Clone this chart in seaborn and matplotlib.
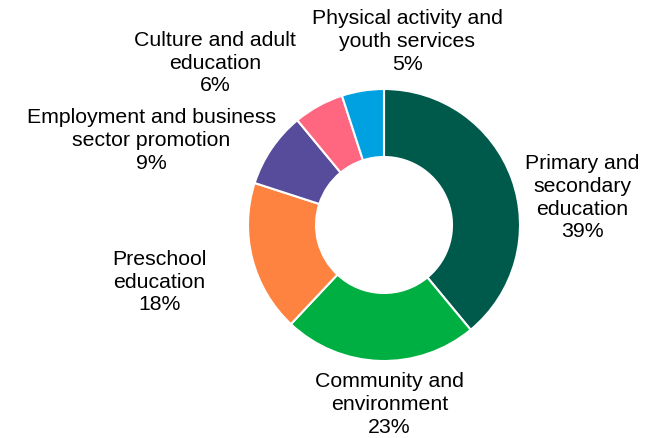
import matplotlib
matplotlib.use("Agg")
import matplotlib.pyplot as plt
import seaborn as sns

categories = ["Primary and\nsecondary\neducation", "Community and\nenvironment",
              "Preschool\neducation", "Employment and business\nsector promotion",
              "Culture and adult\neducation", "Physical activity and\nyouth services"]
shares = [39, 23, 18, 9, 6, 5]
colors = ["#005A4C", "#00AF41", "#FF8340", "#574B9B", "#FF6680", "#00A1E0"]

# label centres in units of the outer radius, relative to the pie centre
label_pos = [(1.46, 0.20), (0.04, -1.32), (-1.65, -0.42),
             (-1.71, 0.62), (-1.24, 1.19), (0.17, 1.35)]

sns.set_theme(style="white")
plt.rcParams["font.family"] = ["Liberation Sans", "DejaVu Sans"]

fig = plt.figure(figsize=(6.57, 4.38), dpi=100)
ax = fig.add_axes([0, 0, 1, 1])
palette = sns.color_palette(colors)
ax.pie(shares, colors=palette, startangle=90, counterclock=False,
       radius=1.0, wedgeprops=dict(width=0.5, edgecolor="white", linewidth=1.5))

for cat, val, (x, y) in zip(categories, shares, label_pos):
    ax.text(x, y, f"{cat}\n{val}%", ha="center", va="center",
            fontsize=15.3, linespacing=1.25, color="black")

# centre at (384, 225) px, radius 136 px
r = 136
ax.set_xlim(-384 / r, (657 - 384) / r)
ax.set_ylim(-(438 - 225) / r, 225 / r)
ax.set_aspect("auto")
ax.axis("off")

fig.savefig("out.png", dpi=100)
